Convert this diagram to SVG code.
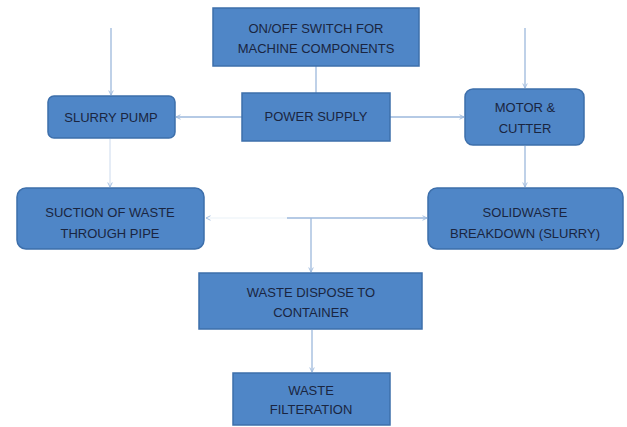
<svg xmlns="http://www.w3.org/2000/svg" width="627" height="427" viewBox="0 0 627 427">
<defs>
<style>
.box{fill:#4f86c7;stroke:#3d6fab;stroke-width:1.5}
.t{font-family:"Liberation Sans",Arial,sans-serif;font-size:13px;fill:#1a2540;text-anchor:middle}
.c{stroke:#9db9dc;stroke-width:1.3;fill:none}
</style>
<marker id="ah" viewBox="0 0 8 8" refX="7" refY="4" markerWidth="6" markerHeight="6" orient="auto" markerUnits="userSpaceOnUse">
<path d="M1,1 L7,4 L1,7" fill="none" stroke="#9db9dc" stroke-width="1.2"/>
</marker>
</defs>
<rect width="627" height="427" fill="#ffffff"/>
<g id="connectors">
<line class="c" x1="316" y1="66" x2="316" y2="93"/>
<line class="c" x1="242" y1="117" x2="176" y2="117" marker-end="url(#ah)"/>
<line class="c" x1="390" y1="117" x2="464" y2="117" marker-end="url(#ah)"/>
<line class="c" x1="111" y1="28" x2="111" y2="95" marker-end="url(#ah)"/>
<line class="c" x1="525" y1="28" x2="525" y2="88" marker-end="url(#ah)"/>
<line class="c" x1="110" y1="139" x2="110" y2="187" marker-end="url(#ah)" stroke-opacity="0.4"/>
<line class="c" x1="525" y1="146" x2="525" y2="187" marker-end="url(#ah)"/>
<line class="c" x1="287" y1="218" x2="427" y2="218" marker-end="url(#ah)"/>
<line class="c" x1="311" y1="218" x2="311" y2="272" marker-end="url(#ah)"/>
<line class="c" x1="287" y1="218" x2="206" y2="218" marker-end="url(#ah)" stroke-opacity="0.15"/>
<line class="c" x1="312" y1="330" x2="312" y2="372" marker-end="url(#ah)"/>
</g>
<g id="onoff">
<rect class="box" x="213" y="8" width="206" height="58"/>
<text class="t" x="316" y="33">ON/OFF SWITCH FOR</text>
<text class="t" x="316" y="53">MACHINE COMPONENTS</text>
</g>
<g id="power">
<rect class="box" x="242" y="93" width="148" height="48"/>
<text class="t" x="316" y="121">POWER SUPPLY</text>
</g>
<g id="slurrypump">
<rect class="box" x="48" y="96" width="127" height="42" rx="6"/>
<text class="t" x="111" y="122">SLURRY PUMP</text>
</g>
<g id="motor">
<rect class="box" x="465" y="89" width="119" height="56" rx="8"/>
<text class="t" x="525" y="112">MOTOR &amp;</text>
<text class="t" x="525" y="133">CUTTER</text>
</g>
<g id="suction">
<rect class="box" x="17" y="188" width="187" height="61" rx="9"/>
<text class="t" x="110" y="217">SUCTION OF WASTE</text>
<text class="t" x="110" y="238">THROUGH PIPE</text>
</g>
<g id="solidwaste">
<rect class="box" x="428" y="188" width="195" height="61" rx="9"/>
<text class="t" x="525" y="217">SOLIDWASTE</text>
<text class="t" x="525" y="238">BREAKDOWN (SLURRY)</text>
</g>
<g id="dispose">
<rect class="box" x="199" y="273" width="223" height="56"/>
<text class="t" x="311" y="297">WASTE DISPOSE TO</text>
<text class="t" x="311" y="317">CONTAINER</text>
</g>
<g id="filteration">
<rect class="box" x="233" y="373" width="157" height="52"/>
<text class="t" x="311" y="395">WASTE</text>
<text class="t" x="311" y="414">FILTERATION</text>
</g>
</svg>
